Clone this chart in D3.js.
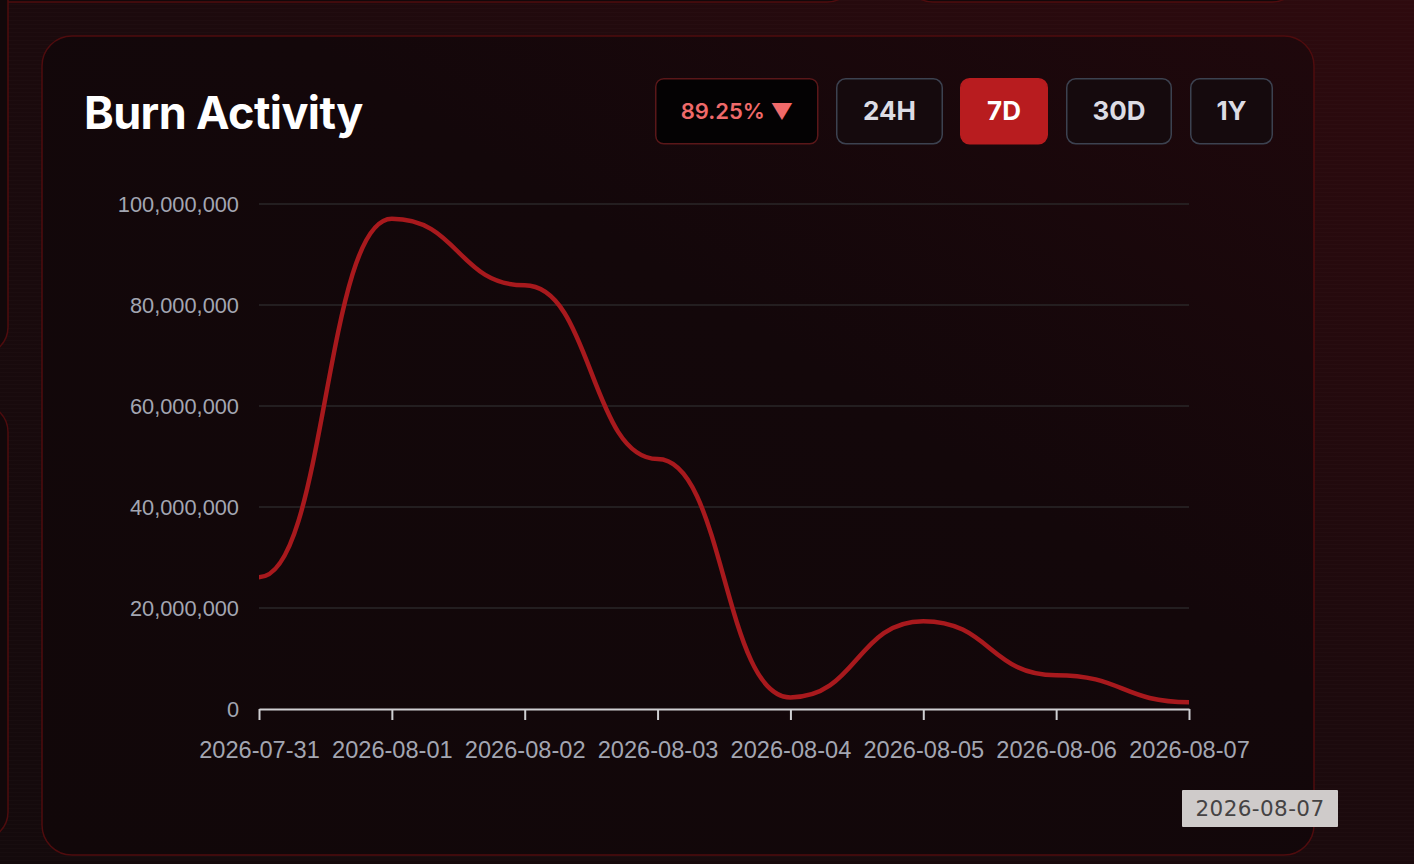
<!DOCTYPE html>
<html>
<head>
<meta charset="utf-8">
<script src="https://cdn.jsdelivr.net/npm/d3@7"></script>
<style>
  html, body { margin: 0; padding: 0; background: #150a0c; overflow: hidden; }
  svg { display: block; }
</style>
</head>
<body>
<svg id="chart" width="1414" height="864"></svg>
<script>
// ---- data ----
const dates = ["2026-07-31", "2026-08-01", "2026-08-02", "2026-08-03", "2026-08-04", "2026-08-05", "2026-08-06", "2026-08-07"];
const burned = [26100000, 97100000, 83900000, 49500000, 2300000, 17400000, 6700000, 1350000];
const yTicks = [0, 20000000, 40000000, 60000000, 80000000, 100000000];
const ranges = ["24H", "7D", "30D", "1Y"];
const activeRange = "7D";
const changeLabel = "89.25% \u25BC";
const title = "Burn Activity";
const tooltipLabel = "2026-08-07";

const svg = d3.select("#chart");
const W = 1414, H = 864;
const defs = svg.append("defs");

// page background gradient
const bg = defs.append("linearGradient").attr("id", "bg").attr("x1", "0").attr("y1", "1").attr("x2", "1").attr("y2", "0");
bg.append("stop").attr("offset", "0").attr("stop-color", "#140a0c");
bg.append("stop").attr("offset", "0.55").attr("stop-color", "#1c0a0d");
bg.append("stop").attr("offset", "1").attr("stop-color", "#2e0a0e");

const cardGrad = defs.append("linearGradient").attr("id", "card").attr("x1", "0").attr("y1", "1").attr("x2", "1").attr("y2", "0");
cardGrad.append("stop").attr("offset", "0").attr("stop-color", "#110709");
cardGrad.append("stop").attr("offset", "0.6").attr("stop-color", "#13070a");
cardGrad.append("stop").attr("offset", "1").attr("stop-color", "#1f080c");

const pat = defs.append("pattern").attr("id", "grid").attr("width", 4).attr("height", 4).attr("patternUnits", "userSpaceOnUse");
pat.append("rect").attr("width", 4).attr("height", 1).attr("fill", "#ffffff").attr("opacity", 0.012);

svg.append("rect").attr("width", W).attr("height", H).attr("fill", "url(#bg)");
svg.append("rect").attr("width", W).attr("height", H).attr("fill", "url(#grid)");

const border = "#4f0c0e";
// surrounding partial cards
const panels = [
  {x: -60, y: -100, w: 915, h: 102},
  {x: 905, y: -100, w: 395, h: 102},
  {x: -100, y: -100, w: 108, h: 455},
  {x: -100, y: 404, w: 108, h: 436}
];
svg.selectAll("rect.panel").data(panels).join("rect")
  .attr("class", "panel")
  .attr("x", d => d.x).attr("y", d => d.y).attr("width", d => d.w).attr("height", d => d.h)
  .attr("rx", 28).attr("fill", "#12080a").attr("stroke", border).attr("stroke-width", 1.5);

// main card
svg.append("rect").attr("x", 42).attr("y", 36).attr("width", 1272).attr("height", 819)
  .attr("rx", 30).attr("fill", "url(#card)").attr("stroke", border).attr("stroke-width", 1.5);

// title
svg.append("text").attr("x", 84).attr("y", 129).text(title)
  .attr("font-family", "Inter, 'Noto Sans', sans-serif").attr("font-weight", 700)
  .attr("font-size", 45).attr("fill", "#ffffff").attr("letter-spacing", -0.6);

// change badge
const badge = svg.append("g").attr("transform", "translate(655,78)");
badge.append("rect").attr("x", 0.75).attr("y", 0.75).attr("width", 162).attr("height", 65).attr("rx", 8)
  .attr("fill", "#040203").attr("stroke", "#5a1719").attr("stroke-width", 1.5);
badge.append("text").attr("x", 82).attr("y", 33).attr("dy", "0.35em").attr("text-anchor", "middle")
  .text(changeLabel).attr("font-family", "Inter, sans-serif").attr("font-weight", 600)
  .attr("font-size", 22).attr("fill", "#f06a6a");

// range buttons
const btnBoxes = [{x: 836, w: 107}, {x: 960, w: 88}, {x: 1066, w: 106}, {x: 1190, w: 83}];
const btns = svg.selectAll("g.btn").data(ranges).join("g").attr("class", "btn")
  .attr("transform", (d, i) => `translate(${btnBoxes[i].x},78)`);
btns.append("rect").attr("x", 0.75).attr("y", 0.75)
  .attr("width", (d, i) => btnBoxes[i].w - 1.5).attr("height", 65).attr("rx", 9)
  .attr("fill", d => d === activeRange ? "#b81c1f" : "#150a0d")
  .attr("stroke", d => d === activeRange ? "#b81c1f" : "#3c4250").attr("stroke-width", 1.5);
btns.append("text").attr("x", (d, i) => btnBoxes[i].w / 2).attr("y", 33).attr("dy", "0.36em")
  .attr("text-anchor", "middle").text(d => d)
  .attr("font-family", "Inter, sans-serif").attr("font-weight", 700).attr("font-size", 26)
  .attr("fill", d => d === activeRange ? "#ffffff" : "#dcdce4");

// ---- chart ----
const parse = d3.utcParse("%Y-%m-%d");
const fmtDate = d3.utcFormat("%Y-%m-%d");
const data = dates.map((d, i) => ({date: parse(d), value: burned[i]}));

const x = d3.scaleUtc().domain(d3.extent(data, d => d.date)).range([259, 1189]);
const y = d3.scaleLinear().domain([0, 100000000]).range([709, 204]);

// gridlines
svg.append("g").selectAll("line").data(yTicks.filter(t => t > 0)).join("line")
  .attr("x1", 259).attr("x2", 1189).attr("y1", d => y(d)).attr("y2", d => y(d))
  .attr("stroke", "#2a2728").attr("stroke-width", 1.5);

// y axis labels
const yAxis = svg.append("g").attr("transform", "translate(259,1)")
  .call(d3.axisLeft(y).tickValues(yTicks).tickFormat(d3.format(",")).tickSize(0).tickPadding(20));
yAxis.select(".domain").remove();
yAxis.selectAll("text").attr("fill", "#a3a6b2").attr("font-size", 21.8)
  .attr("font-family", "'Liberation Sans', Arial, sans-serif");

// x axis
const xAxis = svg.append("g").attr("transform", "translate(0,709)")
  .call(d3.axisBottom(x).tickValues(data.map(d => d.date)).tickFormat(fmtDate).tickSizeOuter(0).tickSizeInner(11).tickPadding(21));
xAxis.select(".domain").attr("stroke", "#cfcfd2").attr("stroke-width", 2);
xAxis.selectAll(".tick line").attr("stroke", "#cfcfd2").attr("stroke-width", 2);
xAxis.selectAll("text").attr("fill", "#a3a6b2").attr("font-size", 23.6)
  .attr("font-family", "'Liberation Sans', Arial, sans-serif");

// line
const line = d3.line().x(d => x(d.date)).y(d => y(d.value)).curve(d3.curveBumpX);
svg.append("path").datum(data).attr("d", line)
  .attr("fill", "none").attr("stroke", "#a8191d").attr("stroke-width", 4.5)
  .attr("stroke-linejoin", "round").attr("stroke-linecap", "butt");

// tooltip
const tip = svg.append("g").attr("transform", "translate(1182,790)");
tip.append("rect").attr("width", 156).attr("height", 37).attr("fill", "#cfcbca").attr("rx", 1);
tip.append("text").attr("x", 78).attr("y", 18.5).attr("dy", "0.35em").attr("text-anchor", "middle")
  .text(tooltipLabel).attr("font-family", "'DejaVu Sans', sans-serif").attr("font-size", 21.5)
  .attr("fill", "#454344").attr("letter-spacing", 0.4);
</script>
</body>
</html>
